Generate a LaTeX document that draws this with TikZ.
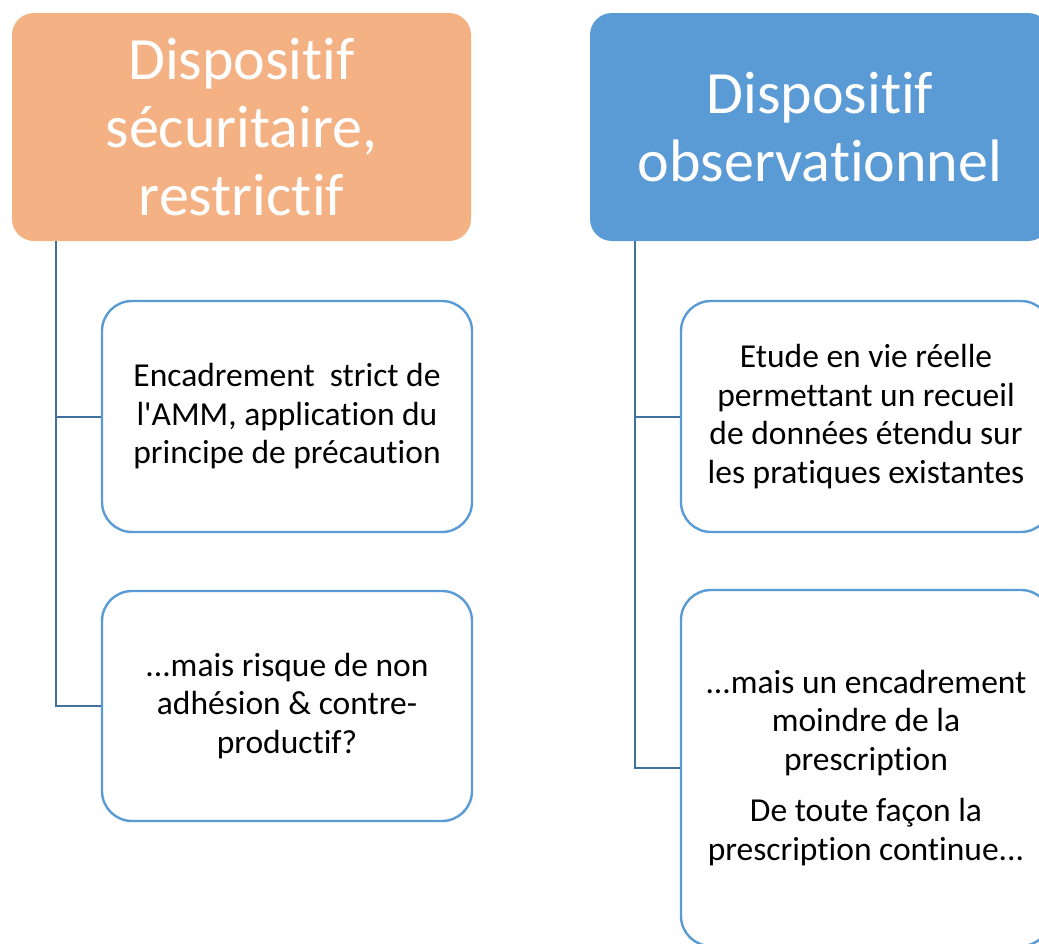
\documentclass[tikz,border=0pt]{standalone}
\usepackage{fontspec}
\setmainfont{Carlito}[Ligatures={NoCommon}]
\usetikzlibrary{calc}
\definecolor{orangehdr}{HTML}{F4B183}
\definecolor{bluehdr}{HTML}{5B9BD5}
\definecolor{connblue}{HTML}{41719C}
\tikzset{
  header/.style={rectangle, rounded corners=22pt, inner sep=0pt, minimum width=459pt, minimum height=228pt,
    text=white, align=center, font=\fontsize{60}{68}\selectfont},
  itembox/.style={rectangle, rounded corners=30pt, draw=bluehdr, line width=2.4pt, fill=white, inner sep=0pt,
    minimum width=370pt, align=center, font=\fontsize{33.5}{38.5}\selectfont},
  conn/.style={draw=connblue, line width=2pt}
}
\begin{document}
\begin{tikzpicture}[x=1pt,y=1pt]
\useasboundingbox (0,0) rectangle (1039,-943);
\clip (0,0) rectangle (1039,-943);
\node[header, fill=orangehdr] (h1) at (241.5,-127) {Dispositif\\sécuritaire,\\restrictif};
\node[header, fill=bluehdr, minimum width=460pt] (h2) at (820,-127) {Dispositif\\observationnel};
\node[itembox, minimum height=231pt] (b1) at (287,-416.5) {Encadrement\ \ strict de\\l\textquotesingle AMM, application du\\principe de précaution};
\node[itembox, minimum height=230pt] (b2) at (287,-706) {...mais risque de non\\adhésion \& contre-\\productif?};
\node[itembox, minimum height=231pt] (b3) at (866,-416.5) {Etude en vie réelle\\permettant un recueil\\de données étendu sur\\les pratiques existantes};
\node[itembox, minimum height=356pt] (b4) at (866,-768) {...mais un encadrement\\moindre de la\\prescription\\[13pt]De toute façon la\\prescription continue...};
\coordinate (t1) at ($(h1.south west)+(44,0)$);
\coordinate (t2) at ($(h2.south west)+(45,0)$);
\draw[conn] (t1) |- (b1.west);
\draw[conn] (t1) |- (b2.west);
\draw[conn] (t2) |- (b3.west);
\draw[conn] (t2) |- (b4.west);
\end{tikzpicture}
\end{document}
